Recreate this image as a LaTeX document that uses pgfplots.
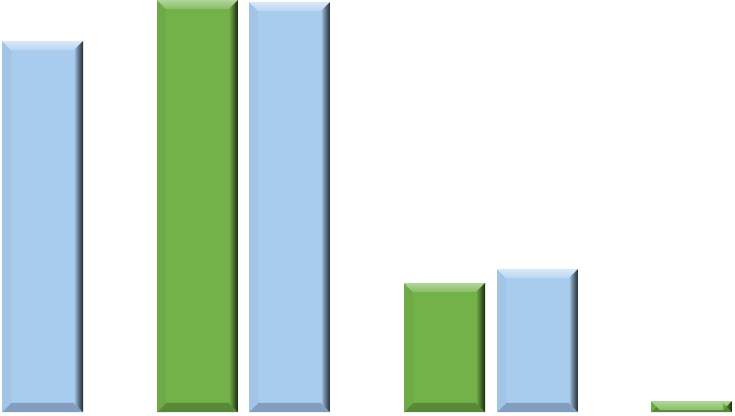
\documentclass[border=0pt]{standalone}
\usepackage{pgfplots}
\pgfplotsset{compat=1.18}
\definecolor{gface}{RGB}{115,177,73}
\definecolor{gleft}{RGB}{110,170,70}
\definecolor{gbot}{RGB}{88,137,56}
\definecolor{bface}{RGB}{168,204,238}
\definecolor{bleft}{RGB}{162,196,230}
\definecolor{bbot}{RGB}{130,158,190}
% bevel shadings (the middle 25bp--75bp is fitted to the face):
% right edges darken outwards, top edges lighten upwards
\pgfdeclarehorizontalshading{gright}{100bp}{color(0bp)=(gface); color(25bp)=(gface); color(45bp)=(gface!70!black); color(75bp)=(gface!20!black); color(100bp)=(gface!20!black)}
\pgfdeclarehorizontalshading{bright}{100bp}{color(0bp)=(bface); color(25bp)=(bface); color(45bp)=(bface!65!black); color(75bp)=(bface!20!black); color(100bp)=(bface!20!black)}
\pgfdeclareverticalshading{gtop}{100bp}{color(0bp)=(gface!85!white); color(25bp)=(gface!85!white); color(75bp)=(gface!55!white); color(100bp)=(gface!55!white)}
\pgfdeclareverticalshading{btop}{100bp}{color(0bp)=(bface!80!white); color(25bp)=(bface!80!white); color(75bp)=(bface!45!white); color(100bp)=(bface!45!white)}
\newlength\bv
\setlength\bv{0.15cm}
% corners of the bar and the inner corners of its bevel
\newcommand\corner[3]{\pgfpointadd{\pgfpointanchor{path picture bounding box}{#1}}{\pgfpoint{#2}{#3}}}
\newcommand\bevpath[4]{%
  \pgfpathmoveto{#1}\pgfpathlineto{#2}\pgfpathlineto{#3}\pgfpathlineto{#4}\pgfpathclose}
\tikzset{
  bevel/.style n args={5}{fill=#1, draw=none,
    path picture={%
      \bevpath{\corner{south east}{0pt}{0pt}}{\corner{south west}{0pt}{0pt}}%
              {\corner{south west}{\bv}{\bv}}{\corner{south east}{-\bv}{\bv}}%
      \pgfsetfillcolor{#5}\pgfusepath{fill}%
      \bevpath{\corner{south west}{0pt}{0pt}}{\corner{north west}{0pt}{0pt}}%
              {\corner{north west}{\bv}{-\bv}}{\corner{south west}{\bv}{\bv}}%
      \pgfsetfillcolor{#3}\pgfusepath{fill}%
      \bevpath{\corner{north west}{0pt}{0pt}}{\corner{north east}{0pt}{0pt}}%
              {\corner{north east}{-\bv}{-\bv}}{\corner{north west}{\bv}{-\bv}}%
      \pgfshadepath{#2}{0}\pgfusepath{discard}%
      \bevpath{\corner{north east}{0pt}{0pt}}{\corner{south east}{0pt}{0pt}}%
              {\corner{south east}{-\bv}{\bv}}{\corner{north east}{-\bv}{-\bv}}%
      \pgfshadepath{#4}{0}\pgfusepath{discard}%
    }},
  green bar/.style={ybar, bar shift=0pt, bevel={gface}{gtop}{gleft}{gright}{gbot}},
  blue bar/.style={ybar, bar shift=0pt, bevel={bface}{btop}{bleft}{bright}{bbot}},
}
\begin{document}
\begin{tikzpicture}
\begin{axis}[
    width=12cm, height=6.776cm, scale only axis,
    xmin=0, xmax=735, ymin=-3, ymax=412,
    axis line style={draw=none}, ticks=none,
    bar width=81,
  ]
  % one plot per bar, so that each bar gets its own bevel
  \addplot[blue bar]  coordinates {(42.5,371)};
  \addplot[green bar] coordinates {(197.5,412)};
  \addplot[blue bar]  coordinates {(289.5,410)};
  \addplot[green bar] coordinates {(444.5,129)};
  \addplot[blue bar]  coordinates {(537.5,143)};
  \addplot[green bar] coordinates {(691.5,11)};
\end{axis}
\end{tikzpicture}
\end{document}
